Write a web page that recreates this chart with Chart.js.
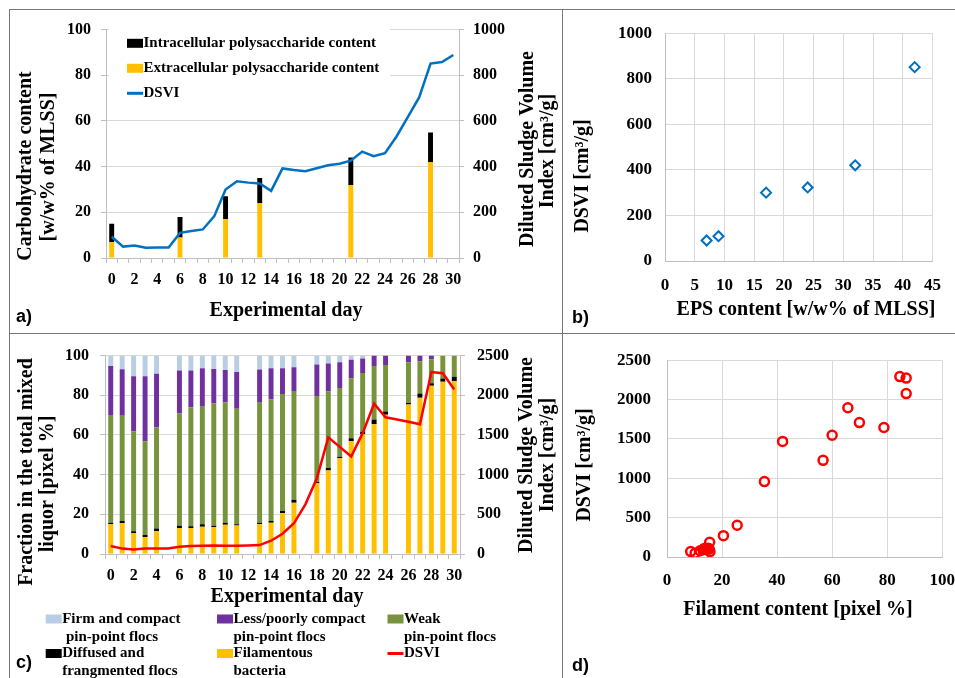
<!DOCTYPE html>
<html><head><meta charset="utf-8">
<script src="https://cdn.jsdelivr.net/npm/chart.js@4/dist/chart.umd.min.js"></script>
<style>
html,body{margin:0;padding:0;background:#fff;overflow:hidden;width:955px;height:678px;}
canvas{position:absolute;}
.frame{position:absolute;background:#777;}
.lbl{position:absolute;font:bold 18px "Liberation Sans",Arial,sans-serif;line-height:18px;color:#000;}
</style></head><body>
<div class="frame" style="left:9px;top:9px;width:946px;height:1px"></div>
<div class="frame" style="left:9px;top:9px;width:1px;height:669px"></div>
<div class="frame" style="left:562px;top:9px;width:1px;height:669px"></div>
<div class="frame" style="left:9px;top:333px;width:946px;height:1px"></div>
<canvas id="ca" width="551" height="322" style="left:10px;top:10px"></canvas>
<canvas id="cb" width="392" height="322" style="left:563px;top:10px"></canvas>
<canvas id="cc" width="551" height="344" style="left:10px;top:334px"></canvas>
<canvas id="cd" width="405" height="344" style="left:563px;top:334px"></canvas>
<div class="lbl" style="left:16px;top:307px">a)</div>
<div class="lbl" style="left:572px;top:308px">b)</div>
<div class="lbl" style="left:16px;top:653px">c)</div>
<div class="lbl" style="left:572px;top:656px">d)</div>
<script>
// ---------- data ----------
const dayLabels = ['0','1','2','3','4','5','6','7','8','9','10','11','12','13','14','15','16','17','18','19','20','21','22','23','24','25','26','27','28','29','30'];

// panel a
const epsDays = [0, 6, 10, 13, 21, 28];
const extracellular = [7, 9, 17, 24, 32, 42];
const intracellular = [8, 9, 10, 11, 12, 13];
const dsviA = [93,50,55,45,46,46,110,118,125,182,300,336,330,326,294,392,385,380,393,406,413,426,466,446,459,531,617,703,851,858,889];

// panel b
const bEps = [7, 9, 17, 24, 32, 42];
const bDsvi = [90, 109, 300, 323, 420, 851];

// panel c
const cDays = [0,1,2,3,4,6,7,8,9,10,11,13,14,15,16,18,19,20,21,22,23,24,26,27,28,29,30];
const filamentous = [15.0,15.6,10.5,8.6,11.5,13.1,13.1,13.7,13.6,14.7,14.4,15.0,15.8,20.6,25.8,35.7,42.1,48.2,56.8,60.3,65.4,70.2,75.3,78.8,84.8,86.8,87.1];
const diffused = [0.8,1.0,1.0,1.0,1.3,1.1,0.9,1.3,0.6,1.1,0.6,0.8,0.8,1.1,1.5,0.6,1.3,0.8,1.6,1.3,2.4,1.6,0.8,2.1,1.3,1.6,2.2];
const weak = [54.2,53.1,50.4,47.2,51.0,56.6,60.0,59.6,61.6,60.6,58.2,60.8,61.4,59.0,54.8,43.4,38.6,34.7,30.0,29.6,26.9,23.4,20.6,16.2,12.1,11.6,10.7];
const lessCompact = [24.7,23.4,27.7,32.8,27.1,21.7,18.5,19.0,17.4,16.3,18.5,16.4,15.6,12.9,12.0,15.8,14.0,13.0,9.5,7.4,5.3,4.8,3.3,2.9,1.8,0,0];
const firm = [5.3,6.9,10.4,10.4,9.1,7.5,7.5,6.4,7.0,7.3,8.3,7.0,6.4,6.4,5.9,4.5,4.0,3.3,2.1,1.4,0,0,0,0,0,0,0];
const dsviC = [100,68,56,68,68,68,92,100,104,108,104,104,108,112,167,255,387,626,955,1470,1350,1228,1523,1894,1722,1695,1667,1635,2293,2277,2073];

// panel d
const filament = [84.6,86.9,86.9,65.7,69.9,78.8,60.0,42.0,56.7,35.4,25.5,20.5,15.5,8.6,10.2,12.0,13.1,13.3,13.7,13.6,14.7,14.4,15.0,15.3,15.6];
const dsviD = [2292,2273,2076,1896,1707,1645,1546,1468,1228,958,404,271,188,70,48,80,92,100,104,108,104,104,112,100,68];

// ---------- styling ----------
const FONT = "'Liberation Serif','Times New Roman',serif";
const fnt = (size) => ({family: FONT, size: size, weight: 'bold'});
const plain = (v) => String(v);
const C_YEL = '#FFC000', C_BLK = '#000000', C_BLUE = '#0070C0', C_RED = '#FF0000';
const C_FIRM = '#B9CDE5', C_LESS = '#7030A0', C_WEAK = '#77933C';
const GRID = '#d9d9d9', AXIS = '#bfbfbf';
Chart.defaults.color = '#000';

function makeDecor(cfg) {
  return {
    id: 'decor',
    afterDraw(chart) {
      const ctx = chart.ctx;
      ctx.save();
      if (cfg.bg) { ctx.fillStyle = '#fff'; ctx.fillRect(cfg.bg.x, cfg.bg.y, cfg.bg.w, cfg.bg.h); }
      (cfg.legend || []).forEach(it => {
        if (it.kind === 'box') { ctx.fillStyle = it.color; ctx.fillRect(it.x, it.y - 4.5, 16, 9); }
        else { ctx.strokeStyle = it.color; ctx.lineWidth = 3; ctx.beginPath(); ctx.moveTo(it.x, it.y); ctx.lineTo(it.x + 16, it.y); ctx.stroke(); }
        ctx.fillStyle = '#000'; ctx.font = 'bold ' + cfg.legendSize + 'px ' + FONT;
        ctx.textBaseline = 'middle'; ctx.textAlign = 'left';
        it.lines.forEach((t, k) => ctx.fillText(t, it.x + 16.5, it.y + k * cfg.legendLH));
      });
      (cfg.texts || []).forEach(t => {
        ctx.save();
        ctx.translate(t.x, t.y);
        if (t.rot) ctx.rotate(-Math.PI / 2);
        ctx.fillStyle = '#000'; ctx.font = 'bold ' + (t.size || 20) + 'px ' + FONT;
        ctx.textAlign = 'center'; ctx.textBaseline = 'middle';
        ctx.fillText(t.t, 0, 0);
        ctx.restore();
      });
      ctx.restore();
    }
  };
}
const pts = (xs, ys) => xs.map((x, i) => ({x: x, y: ys[i]}));
const catPts = (xs, ys) => xs.map((x, i) => ({x: String(x), y: ys[i]}));
const base = {responsive: false, animation: false, events: [], plugins: {legend: {display: false}, tooltip: {enabled: false}}};

// ---------- chart a ----------
new Chart(document.getElementById('ca'), {
  type: 'bar',
  data: {labels: dayLabels, datasets: [
    {type: 'line', label: 'DSVI', data: dsviA, yAxisID: 'y1', borderColor: C_BLUE, borderWidth: 2.5, pointRadius: 0, tension: 0, order: 0},
    {label: 'Extracellular polysaccharide content', data: catPts(epsDays, extracellular), backgroundColor: C_YEL, yAxisID: 'y', order: 1, barPercentage: 0.9, categoryPercentage: 0.48},
    {label: 'Intracellular polysaccharide content', data: catPts(epsDays, intracellular), backgroundColor: C_BLK, yAxisID: 'y', order: 1, barPercentage: 0.9, categoryPercentage: 0.48}
  ]},
  options: Object.assign({}, base, {
    layout: {padding: {top: 16, left: 0, right: 0, bottom: 0}},
    scales: {
      x: {stacked: true, offset: true, grid: {offset: true, drawOnChartArea: false, tickLength: 5, color: AXIS}, border: {color: AXIS},
          ticks: {autoSkip: false, maxRotation: 0, padding: 7, font: fnt(16), callback(v, i) { return i % 2 === 0 ? this.getLabelForValue(v) : ''; }},
          afterFit(s) { s.height = 74; }},
      y: {stacked: true, min: 0, max: 100, ticks: {stepSize: 20, padding: 10, font: fnt(16), callback: plain}, grid: {color: GRID, tickColor: AXIS, tickLength: 5}, border: {color: AXIS},
          afterFit(s) { s.width = 96; }},
      y1: {position: 'right', min: 0, max: 1000, ticks: {stepSize: 200, padding: 9, font: fnt(16), callback: plain}, grid: {drawOnChartArea: false, color: AXIS, tickLength: 5}, border: {color: AXIS},
          afterFit(s) { s.width = 102; }}
    }
  }),
  plugins: [makeDecor({
    bg: {x: 99, y: 17, w: 281, h: 90}, legendSize: 15, legendLH: 18,
    legend: [
      {kind: 'box', color: C_BLK, x: 117, y: 33.3, lines: ['Intracellular polysaccharide content']},
      {kind: 'box', color: C_YEL, x: 117, y: 58.3, lines: ['Extracellular polysaccharide content']},
      {kind: 'line', color: C_BLUE, x: 117, y: 83.3, lines: ['DSVI']}
    ],
    texts: [
      {t: 'Carbohydrate content', x: 16, y: 156, rot: true},
      {t: '[w/w% of MLSS]', x: 39, y: 157, rot: true},
      {t: 'Diluted Sludge Volume', x: 518, y: 139, rot: true},
      {t: 'Index [cm³/g]', x: 538, y: 141, rot: true},
      {t: 'Experimental day', x: 276, y: 301}
    ]
  })]
});

// ---------- chart b ----------
new Chart(document.getElementById('cb'), {
  type: 'scatter',
  data: {datasets: [{data: pts(bEps, bDsvi), pointStyle: 'rectRot', pointRadius: 5, borderColor: C_BLUE, backgroundColor: '#fff', borderWidth: 2}]},
  options: Object.assign({}, base, {
    layout: {padding: {top: 18, left: 0, right: 13, bottom: 0}},
    scales: {
      x: {type: 'linear', min: 0, max: 45, ticks: {stepSize: 5, padding: 14, font: fnt(17), callback: plain}, grid: {color: GRID, drawTicks: false}, border: {color: AXIS}, afterFit(s) { s.height = 71; }},
      y: {min: 0, max: 1000, ticks: {stepSize: 200, padding: 13, font: fnt(17), callback: plain}, grid: {color: GRID, drawTicks: false}, border: {color: AXIS}, afterFit(s) { s.width = 102; }}
    }
  }),
  plugins: [makeDecor({texts: [
    {t: 'DSVI [cm³/g]', x: 20, y: 166, rot: true},
    {t: 'EPS content [w/w% of MLSS]', x: 243, y: 300}
  ]})]
});

// ---------- chart c ----------
const barOpt = {yAxisID: 'y', order: 1, barPercentage: 0.9, categoryPercentage: 0.48};
new Chart(document.getElementById('cc'), {
  type: 'bar',
  data: {labels: dayLabels, datasets: [
    {type: 'line', label: 'DSVI', data: dsviC, yAxisID: 'y1', borderColor: C_RED, borderWidth: 2.5, pointRadius: 0, tension: 0, order: 0},
    Object.assign({label: 'Filamentous bacteria', data: catPts(cDays, filamentous), backgroundColor: C_YEL}, barOpt),
    Object.assign({label: 'Diffused and frangmented flocs', data: catPts(cDays, diffused), backgroundColor: C_BLK}, barOpt),
    Object.assign({label: 'Weak pin-point flocs', data: catPts(cDays, weak), backgroundColor: C_WEAK}, barOpt),
    Object.assign({label: 'Less/poorly compact pin-point flocs', data: catPts(cDays, lessCompact), backgroundColor: C_LESS}, barOpt),
    Object.assign({label: 'Firm and compact pin-point flocs', data: catPts(cDays, firm), backgroundColor: C_FIRM}, barOpt)
  ]},
  options: Object.assign({}, base, {
    layout: {padding: {top: 11, left: 0, right: 0, bottom: 68}},
    scales: {
      x: {stacked: true, offset: true, grid: {offset: true, drawOnChartArea: false, tickLength: 5, color: AXIS}, border: {color: AXIS},
          ticks: {autoSkip: false, maxRotation: 0, padding: 7, font: fnt(16), callback(v, i) { return i % 2 === 0 ? this.getLabelForValue(v) : ''; }},
          afterFit(s) { s.height = 56; }},
      y: {stacked: true, min: 0, max: 100, ticks: {stepSize: 20, padding: 11, font: fnt(16), callback: plain}, grid: {color: GRID, tickColor: AXIS, tickLength: 5}, border: {color: AXIS},
          afterFit(s) { s.width = 95; }},
      y1: {position: 'right', min: 0, max: 2500, ticks: {stepSize: 500, padding: 12, font: fnt(16), callback: plain}, grid: {drawOnChartArea: false, color: AXIS, tickLength: 5}, border: {color: AXIS},
          afterFit(s) { s.width = 101; }}
    }
  }),
  plugins: [makeDecor({
    legendSize: 15, legendLH: 18,
    legend: [
      {kind: 'box', color: C_FIRM, x: 35.7, y: 285, lines: ['Firm and compact', ' pin-point flocs']},
      {kind: 'box', color: C_LESS, x: 207, y: 285, lines: ['Less/poorly compact', 'pin-point flocs']},
      {kind: 'box', color: C_WEAK, x: 377.5, y: 285, lines: ['Weak', 'pin-point flocs']},
      {kind: 'box', color: C_BLK, x: 35.7, y: 319.5, lines: ['Diffused and', 'frangmented flocs']},
      {kind: 'box', color: C_YEL, x: 207, y: 319.5, lines: ['Filamentous', 'bacteria']},
      {kind: 'line', color: C_RED, x: 377.5, y: 319.5, lines: ['DSVI']}
    ],
    texts: [
      {t: 'Fraction in the total mixed', x: 17, y: 138, rot: true},
      {t: 'liquor [pixel %]', x: 38, y: 150, rot: true},
      {t: 'Diluted Sludge Volume', x: 517, y: 121, rot: true},
      {t: 'Index [cm³/g]', x: 538, y: 121, rot: true},
      {t: 'Experimental day', x: 277, y: 263}
    ]
  })]
});

// ---------- chart d ----------
new Chart(document.getElementById('cd'), {
  type: 'scatter',
  data: {datasets: [{data: pts(filament, dsviD), pointStyle: 'circle', pointRadius: 4.5, borderColor: C_RED, backgroundColor: 'rgba(255,255,255,0)', borderWidth: 2.5}]},
  options: Object.assign({}, base, {
    layout: {padding: {top: 11, left: 0, right: 24, bottom: 53}},
    scales: {
      x: {type: 'linear', min: 0, max: 100, ticks: {stepSize: 20, padding: 13, font: fnt(17), callback: plain}, grid: {color: GRID, drawTicks: false}, border: {color: AXIS}, afterFit(s) { s.height = 68; }},
      y: {min: 0, max: 2500, ticks: {stepSize: 500, padding: 16, font: fnt(17), callback: plain}, grid: {color: GRID, drawTicks: false}, border: {color: AXIS}, afterFit(s) { s.width = 104; }}
    }
  }),
  plugins: [makeDecor({texts: [
    {t: 'DSVI [cm³/g]', x: 22, y: 131, rot: true},
    {t: 'Filament content [pixel %]', x: 235, y: 276}
  ]})]
});
</script>
</body></html>
